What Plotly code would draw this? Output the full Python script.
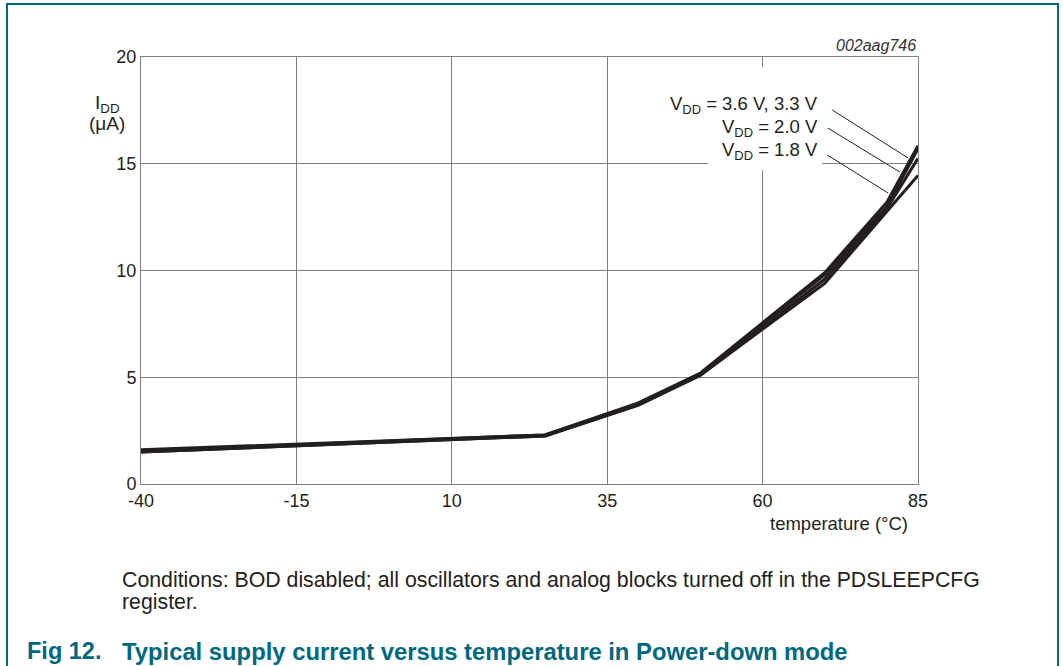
import plotly.graph_objects as go

temps = [-40, 25, 40, 50, 70, 80, 85]
idd_36 = [1.6, 2.3, 3.8, 5.2, 9.9, 13.2, 15.85]
idd_33 = [1.55, 2.3, 3.75, 5.15, 9.8, 13.0, 15.7]
idd_20 = [1.5, 2.25, 3.7, 5.1, 9.6, 12.9, 15.25]
idd_18 = [1.5, 2.25, 3.7, 5.1, 9.4, 12.75, 14.45]

x_ticks = [-40, -15, 10, 35, 60, 85]
y_ticks = [0, 5, 10, 15, 20]

series = [("3.6 V", idd_36), ("3.3 V", idd_33), ("2.0 V", idd_20), ("1.8 V", idd_18)]

FONT = "Liberation Sans, Arial, sans-serif"
TEAL = "#00687f"
INK = "#231f20"
GRID = "#7f7f7f"

fig = go.Figure()
for name, vals in series:
    fig.add_trace(go.Scatter(x=temps, y=vals, mode="lines", name=name,
                             line=dict(color=INK, width=3), showlegend=False))

shapes = []
# white box behind labels, covering grid lines
shapes.append(dict(type="rect", xref="x", yref="y", x0=51.2, x1=69.6, y0=14.7, y1=19.53,
                   fillcolor="white", line=dict(width=0), layer="between"))
# leader lines
leaders = [((71.2, 17.52), (83.4, 15.27)),
           ((70.5, 16.67), (82.1, 14.61)),
           ((70.4, 15.41), (80.2, 13.63))]
for (xa, ya), (xb, yb) in leaders:
    shapes.append(dict(type="line", xref="x", yref="y", x0=xa, y0=ya, x1=xb, y1=yb,
                       line=dict(color=INK, width=1)))
# page frame
shapes.append(dict(type="rect", xref="paper", yref="paper", x0=-0.1725, x1=1.1802,
                   y0=-0.6, y1=1.1241, line=dict(color=TEAL, width=2), fillcolor="rgba(0,0,0,0)"))

ann = []
labels = [("V<sub>DD</sub> = 3.6 V, 3.3 V", 17.75),
          ("V<sub>DD</sub> = 2.0 V", 16.67),
          ("V<sub>DD</sub> = 1.8 V", 15.6)]
for txt, yy in labels:
    ann.append(dict(x=69.23, y=yy, xref="x", yref="y", text=txt, showarrow=False,
                    xanchor="right", yanchor="middle", font=dict(size=18.5, color=INK, family=FONT)))

ann.append(dict(x=1.0, y=1.028, xref="paper", yref="paper", text="<i>002aag746</i>",
                showarrow=False, xanchor="right", yanchor="middle",
                font=dict(size=16, color="#333333", family=FONT)))
ann.append(dict(x=-0.0425, y=(484 - 104) / 427, xref="paper", yref="paper", text="I<sub>DD</sub>",
                showarrow=False, xanchor="center", yanchor="middle",
                font=dict(size=19, color=INK, family=FONT)))
ann.append(dict(x=-0.0437, y=(484 - 124) / 427, xref="paper", yref="paper", text="(μA)",
                showarrow=False, xanchor="center", yanchor="middle",
                font=dict(size=19, color=INK, family=FONT)))
ann.append(dict(x=(910 - 141) / 777, y=(484 - 523) / 427, xref="paper", yref="paper",
                text="temperature (°C)", showarrow=False, xanchor="right", yanchor="middle",
                font=dict(size=18.5, color=INK, family=FONT)))
ann.append(dict(x=(120 - 141) / 777, y=(484 - 580) / 427, xref="paper", yref="paper",
                text="Conditions: BOD disabled; all oscillators and analog blocks turned off in the PDSLEEPCFG",
                showarrow=False, xanchor="left", yanchor="middle",
                font=dict(size=21.3, color=INK, family=FONT)))
ann.append(dict(x=(120 - 141) / 777, y=(484 - 602) / 427, xref="paper", yref="paper",
                text="register.", showarrow=False, xanchor="left", yanchor="middle",
                font=dict(size=21.3, color=INK, family=FONT)))
ann.append(dict(x=(25 - 141) / 777, y=(484 - 651) / 427, xref="paper", yref="paper",
                text="<b>Fig 12.</b>", showarrow=False, xanchor="left", yanchor="middle",
                font=dict(size=23.5, color=TEAL, family=FONT)))
ann.append(dict(x=(120 - 141) / 777, y=(484 - 651) / 427, xref="paper", yref="paper",
                text="<b>Typical supply current versus temperature in Power-down mode</b>",
                showarrow=False, xanchor="left", yanchor="middle",
                font=dict(size=23.8, color=TEAL, family=FONT)))

fig.update_layout(
    width=1063, height=666,
    margin=dict(l=141, r=145, t=57, b=182),
    paper_bgcolor="white", plot_bgcolor="white",
    font=dict(family=FONT, size=18, color=INK),
    shapes=shapes, annotations=ann,
    xaxis=dict(range=[-40, 85], tickmode="array", tickvals=x_ticks,
               ticktext=[str(v) for v in x_ticks], showgrid=True, gridcolor=GRID, gridwidth=1,
               showline=True, linecolor=GRID, linewidth=1, mirror=True, zeroline=False,
               ticks="", tickfont=dict(size=18, color=INK)),
    yaxis=dict(range=[0, 20], tickmode="array", tickvals=y_ticks,
               ticktext=[str(v) for v in y_ticks], showgrid=True, gridcolor=GRID, gridwidth=1,
               showline=True, linecolor=GRID, linewidth=1, mirror=True, zeroline=False,
               ticks="", tickfont=dict(size=18, color=INK)),
)

fig.write_html("out.html", config={"displayModeBar": False},
               post_script="document.body.style.margin='0px';document.body.style.overflow='hidden';")
